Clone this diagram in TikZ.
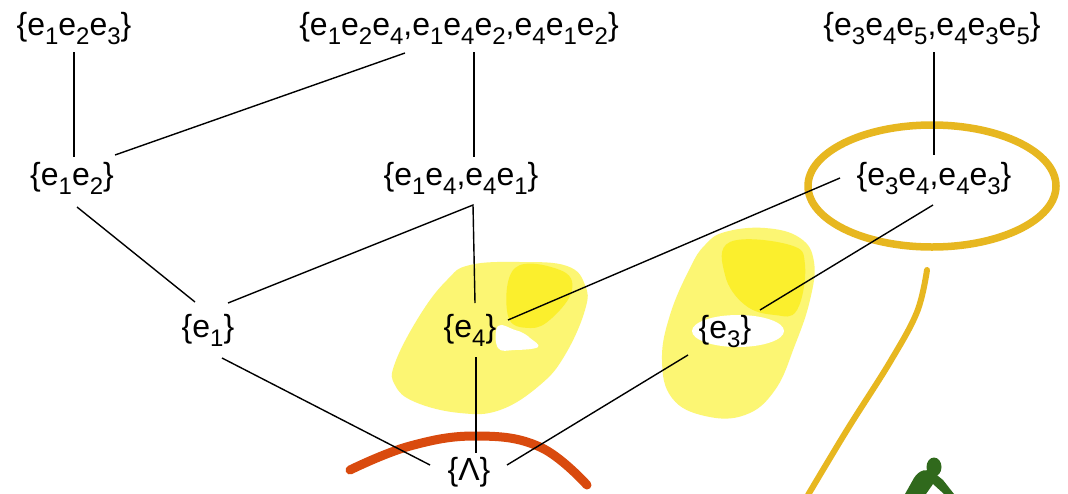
\documentclass[tikz,border=0pt]{standalone}
\usepackage{fontspec}
\setmainfont{Liberation Sans}
\usetikzlibrary{calc}
\definecolor{yl}{RGB}{252,246,115}
\definecolor{yd}{RGB}{251,239,45}
\definecolor{goldc}{RGB}{231,183,32}
\definecolor{orangec}{RGB}{217,74,14}
\definecolor{greenc}{RGB}{48,105,28}
\newcommand\sbs[1]{\raisebox{-9pt}{\fontsize{24}{24}\selectfont #1}}
\tikzset{
  lbl/.style={anchor=base, inner sep=0pt, font=\fontsize{32}{38}\selectfont},
  edge/.style={draw=black, line width=1.4pt},
}
\begin{document}
\begin{tikzpicture}[x=1pt,y=-1pt]
\fill[white] (0,0) rectangle (1068,493);
\useasboundingbox (0,0) rectangle (1068,493);
% yellow highlights
\fill[yl] plot[smooth cycle, tension=0.7] coordinates {(395,363) (420,315) (447,280) (470,265) (520,262) (567,266) (585,285) (585,310) (565,355) (540,385) (500,410) (460,413) (415,402) (395,385)};
\fill[yd] plot[smooth cycle, tension=0.7] coordinates {(515,268) (560,270) (572,290) (552,318) (530,328) (508,316)};
\fill[white] plot[smooth cycle, tension=0.7] coordinates {(498,326) (515,330) (523,333) (530,338) (538,347) (515,350) (498,348)};
\fill[yl] plot[smooth cycle, tension=0.7] coordinates {(725,232) (765,228) (800,238) (814,262) (810,300) (795,345) (775,390) (745,415) (705,416) (672,398) (662,360) (670,315) (690,268) (705,245)};
\fill[yd] plot[smooth cycle, tension=0.7] coordinates {(730,242) (790,245) (805,265) (797,310) (775,315) (745,305) (725,275)};
\fill[white] (738,331) ellipse [x radius=46, y radius=16];
% gold ellipse and line
\draw[goldc, line width=7.5pt] (932,186) ellipse [x radius=124, y radius=61];
\draw[goldc, line width=6pt, line cap=round] plot[smooth, tension=0.6] coordinates {(927,270) (917,312) (890,362) (847,430) (808,495)};
% orange arc
\draw[orangec, line width=9pt, line cap=round] plot[smooth, tension=0.7] coordinates {(350,470) (410,446) (477,436) (540,447) (587,485)};
% green figure
\fill[greenc] (934,467) ellipse [x radius=7.5, y radius=9.5];
\fill[greenc] (905,494) -- (914,478) .. controls (919,470) and (927,468) .. (933,472) -- (943,480) -- (954,494) -- (944,494) -- (933,484) -- (926,494) -- cycle;
% nodes
\node[lbl] (A) at (74,35) {\{e\sbs{1}e\sbs{2}e\sbs{3}\}};
\node[lbl] (B) at (459,35) {\{e\sbs{1}e\sbs{2}e\sbs{4},e\sbs{1}e\sbs{4}e\sbs{2},e\sbs{4}e\sbs{1}e\sbs{2}\}};
\node[lbl] (C) at (932,35) {\{e\sbs{3}e\sbs{4}e\sbs{5},e\sbs{4}e\sbs{3}e\sbs{5}\}};
\node[lbl] (D) at (72,185) {\{e\sbs{1}e\sbs{2}\}};
\node[lbl] (E) at (461,185) {\{e\sbs{1}e\sbs{4},e\sbs{4}e\sbs{1}\}};
\node[lbl] (F) at (934,185) {\{e\sbs{3}e\sbs{4},e\sbs{4}e\sbs{3}\}};
\node[lbl] (G) at (208,337) {\{e\sbs{1}\}};
\node[lbl] (H) at (470,337) {\{e\sbs{4}\}};
\node[lbl] (I) at (725,338) {\{e\sbs{3}\}};
\node[lbl] (J) at (469,480) {\{Λ\}};
% connectors
\draw[edge] ($(A.base)+(0,17)$) -- ($(D.base)+(2,-28)$);
\draw[edge] ($(B.base)+(-54,18)$) -- ($(D.base)+(43,-30)$);
\draw[edge] ($(B.base)+(15,17)$) -- ($(E.base)+(13,-28)$);
\draw[edge] ($(C.base)+(2,17)$) -- ($(F.base)+(0,-30)$);
\draw[edge] ($(D.base)+(5,22)$) -- ($(G.base)+(-13,-35)$);
\draw[edge] ($(G.base)+(20,-34)$) -- ($(E.base)+(12,20)$) -- ($(H.base)+(5,-34)$);
\draw[edge] ($(F.base)+(-94,-7)$) -- ($(H.base)+(38,-17)$);
\draw[edge] ($(F.base)+(-1,20)$) -- ($(I.base)+(35,-28)$);
\draw[edge] ($(G.base)+(14,21)$) -- ($(J.base)+(-39,-15)$);
\draw[edge] ($(H.base)+(6,20)$) -- ($(J.base)+(7,-27)$);
\draw[edge] ($(I.base)+(-37,17)$) -- ($(J.base)+(38,-15)$);
\end{tikzpicture}
\end{document}
